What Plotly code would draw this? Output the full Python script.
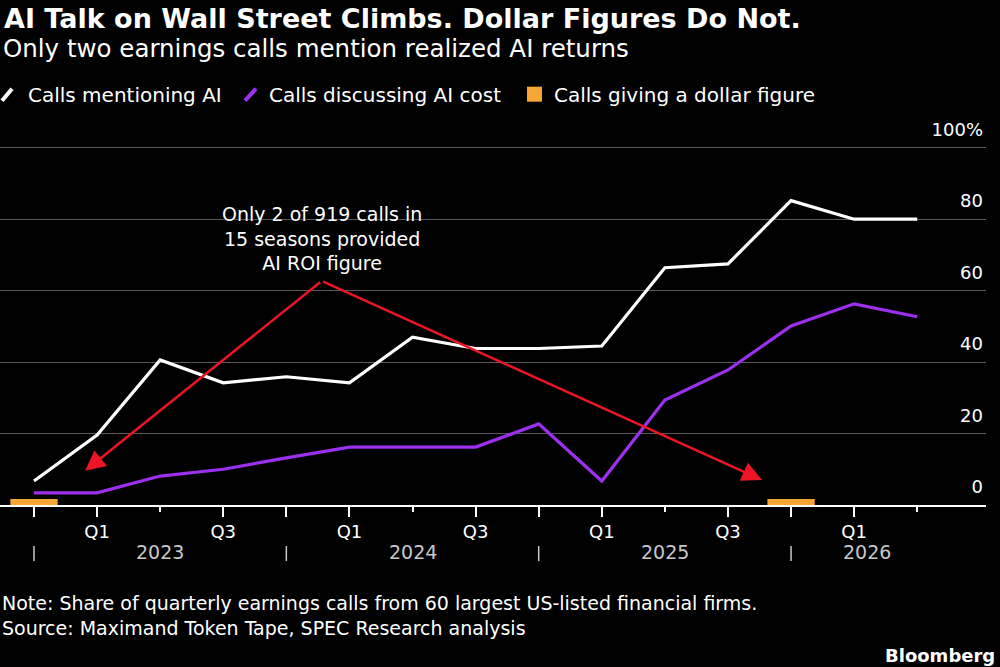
import plotly.graph_objs as go

quarters = ['Q4 2022', 'Q1 2023', 'Q2 2023', 'Q3 2023', 'Q4 2023',
            'Q1 2024', 'Q2 2024', 'Q3 2024', 'Q4 2024',
            'Q1 2025', 'Q2 2025', 'Q3 2025', 'Q4 2025',
            'Q1 2026', 'Q2 2026']
mentioning_ai = [6.7, 19.6, 40.6, 34.2, 35.9, 34.2, 47.0, 43.8, 43.8, 44.5, 66.4, 67.5, 85.2, 80.0, 80.0]
discussing_cost = [3.4, 3.4, 8.1, 10.0, 13.2, 16.2, 16.2, 16.2, 22.7, 6.7, 29.4, 37.8, 50.1, 56.3, 52.7]
dollar_figure = [1.7, 0, 0, 0, 0, 0, 0, 0, 0, 0, 0, 0, 1.7, 0, 0]

# axis labelling
tick_text = ['', 'Q1', '', 'Q3', '', 'Q1', '', 'Q3', '', 'Q1', '', 'Q3', '', 'Q1', '']
years = ['2023', '2024', '2025', '2026']
year_pos = [2, 6, 10, 13.2]
year_breaks = [0, 4, 8, 12]
y_ticks = [0, 20, 40, 60, 80, 100]
y_text = ['0', '20', '40', '60', '80', '100%']

WHITE = '#ffffff'
PURPLE = '#9d2ff0'
ORANGE = '#f7a535'
RED = '#ec1425'
FONT = 'DejaVu Sans, sans-serif'

# plot box: x 0..986 px, y value 0 at 505px, 3.57 px per percent
PW = 986.
YMAX = 110
PH = 3.57 * YMAX
def px(p):
    return p / PW
def py(p):
    return (505 - p) / PH

x = list(range(len(quarters)))
long_ticks = [i for i in x if tick_text[i] != '' or i in year_breaks]
short_ticks = [i for i in x if i not in long_ticks]

barTrace = go.Bar(x=x, y=dollar_figure, width=0.75, marker=dict(color=ORANGE, line=dict(width=0)),
                  name='Calls giving a dollar figure', hoverinfo='skip')
aiTrace = go.Scatter(x=x, y=mentioning_ai, mode='lines', name='Calls mentioning AI',
                     line=dict(color=WHITE, width=3.2))
costTrace = go.Scatter(x=x, y=discussing_cost, mode='lines', name='Calls discussing AI cost',
                       line=dict(color=PURPLE, width=3.2))

layout = dict(
    width=1000, height=667,
    paper_bgcolor='black', plot_bgcolor='black',
    margin=dict(l=0, r=1000 - PW, t=round(505 - PH), b=667 - 505),
    showlegend=False,
    font=dict(family=FONT, color=WHITE, size=18),
    xaxis=dict(
        range=[-34 / 63.1, 15.09],
        tickmode='array', tickvals=long_ticks, ticktext=[tick_text[i] for i in long_ticks],
        ticks='outside', ticklen=10, tickwidth=1.5, tickcolor=WHITE,
        minor=dict(tickmode='array', tickvals=short_ticks, ticks='outside', ticklen=5,
                   tickwidth=1.5, tickcolor=WHITE),
        showline=True, linecolor=WHITE, linewidth=1.5,
        showgrid=False, zeroline=False,
        tickfont=dict(size=18, color=WHITE, family=FONT),
        fixedrange=True
    ),
    yaxis=dict(
        range=[0, YMAX], side='right',
        tickmode='array', tickvals=y_ticks, ticktext=y_text,
        ticklabelposition='inside', ticklabelshift=-18,
        ticks='', showline=False, zeroline=False,
        showgrid=True, gridcolor='#5a5a5a', gridwidth=1,
        tickfont=dict(size=18, color=WHITE, family=FONT),
        fixedrange=True
    ),
    annotations=[],
    shapes=[],
)

ann = layout['annotations']
shp = layout['shapes']

# title block
ann.append(dict(xref='paper', yref='paper', x=px(2), y=py(19), xanchor='left', yanchor='middle',
                text='<b>AI Talk on Wall Street Climbs. Dollar Figures Do Not.</b>', showarrow=False,
                font=dict(size=27, color=WHITE, family=FONT)))
ann.append(dict(xref='paper', yref='paper', x=px(1), y=py(49), xanchor='left', yanchor='middle',
                text='Only two earnings calls mention realized AI returns', showarrow=False,
                font=dict(size=24.5, color=WHITE, family=FONT)))

# hand made legend
for lx, txt in [(26, 'Calls mentioning AI'), (267, 'Calls discussing AI cost'), (552, 'Calls giving a dollar figure')]:
    ann.append(dict(xref='paper', yref='paper', x=px(lx), y=py(95), xanchor='left', yanchor='middle',
                    text=txt, showarrow=False, font=dict(size=20, color=WHITE, family=FONT)))
shp.append(dict(type='line', xref='paper', yref='paper', x0=px(2), x1=px(12),
                y0=py(101), y1=py(89), line=dict(color=WHITE, width=4)))
shp.append(dict(type='line', xref='paper', yref='paper', x0=px(245), x1=px(256),
                y0=py(101), y1=py(89), line=dict(color=PURPLE, width=4)))
shp.append(dict(type='rect', xref='paper', yref='paper', x0=px(527), x1=px(542),
                y0=py(102), y1=py(87), fillcolor=ORANGE, line=dict(width=0)))

# year row
for pos, yr in zip(year_pos, years):
    ann.append(dict(xref='x', yref='paper', x=pos, y=py(552), xanchor='center', yanchor='middle',
                    text=yr, showarrow=False, font=dict(size=19, color='#c8c8c8', family=FONT)))
for b in year_breaks:
    shp.append(dict(type='line', xref='x', yref='paper', x0=b, x1=b,
                    y0=py(546), y1=py(561), line=dict(color='#c8c8c8', width=1.5)))

# callout
ann.append(dict(xref='x', yref='y', x=4.57, y=74.6, xanchor='center', yanchor='middle',
                text='Only 2 of 919 calls in<br>15 seasons provided<br>AI ROI figure', showarrow=False,
                font=dict(size=19, color=WHITE, family=FONT, shadow='0px 0px 3px black')))
for tx, ty in [(0.81, 9.6), (11.54, 7.0)]:
    ann.append(dict(xref='x', yref='y', axref='x', ayref='y', x=tx, y=ty, ax=4.56, ay=62.7,
                    text='', showarrow=True, arrowhead=2, arrowsize=1.6, arrowwidth=2.5,
                    arrowcolor=RED, standoff=0, startstandoff=0))

# footer
ann.append(dict(xref='paper', yref='paper', x=0, y=py(603), xanchor='left', yanchor='middle',
                text='Note: Share of quarterly earnings calls from 60 largest US-listed financial firms.',
                showarrow=False, font=dict(size=19, color=WHITE, family=FONT)))
ann.append(dict(xref='paper', yref='paper', x=0, y=py(628), xanchor='left', yanchor='middle',
                text='Source: Maximand Token Tape, SPEC Research analysis',
                showarrow=False, font=dict(size=19, color=WHITE, family=FONT)))
ann.append(dict(xref='paper', yref='paper', x=px(997), y=py(655), xanchor='right', yanchor='middle',
                text='<b>Bloomberg</b>', showarrow=False, font=dict(size=18, color=WHITE, family=FONT)))

fig = go.Figure(data=[barTrace, aiTrace, costTrace], layout=layout)
# drop the default page margin so the figure sits flush in the window
fig.write_html('out.html', config={'displayModeBar': False},
               post_script="document.body.style.margin='0';document.body.style.background='black';")
